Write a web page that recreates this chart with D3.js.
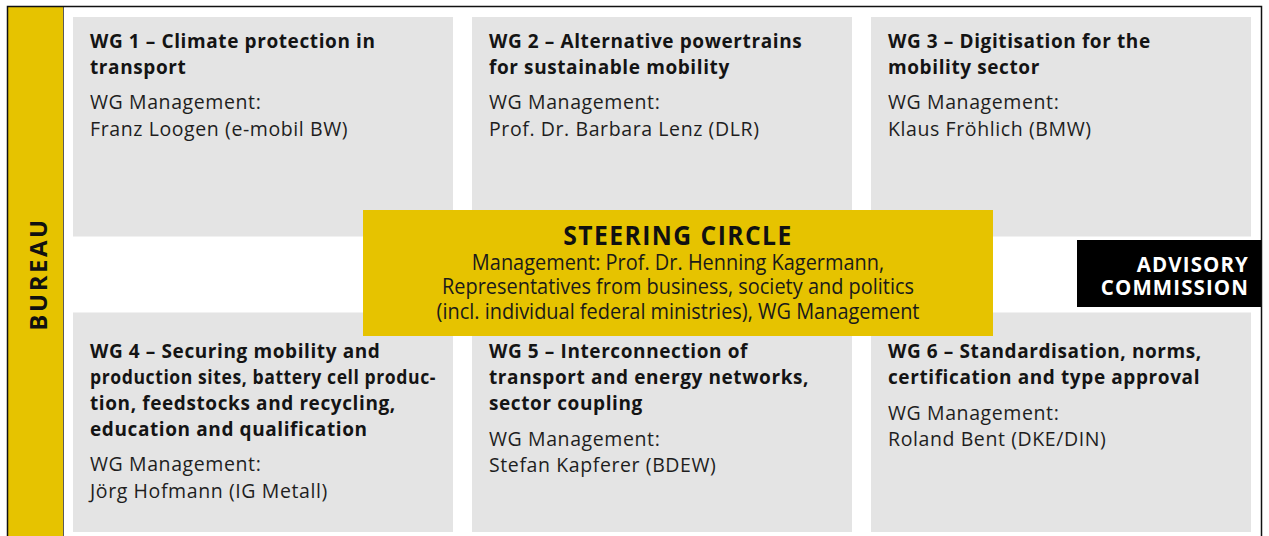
<!DOCTYPE html>
<html>
<head>
<meta charset="utf-8">
<script src="https://cdn.jsdelivr.net/npm/d3@7"></script>
<style>
  body { margin: 0; background: #fff; }
  svg text { font-family: "Open Sans", "Noto Sans", sans-serif; }
</style>
</head>
<body>
<div id="chart-container"></div>
<script>
// Working groups, read row by row (top row 1-3, bottom row 4-6)
const groupTitles = [
    ["WG 1 – Climate protection in", "transport"],
    ["WG 2 – Alternative powertrains", "for sustainable mobility"],
    ["WG 3 – Digitisation for the", "mobility sector"],
    ["WG 4 – Securing mobility and", "production sites, battery cell produc-", "tion, feedstocks and recycling,", "education and qualification"],
    ["WG 5 – Interconnection of", "transport and energy networks,", "sector coupling"],
    ["WG 6 – Standardisation, norms,", "certification and type approval"]
];
const groupManagers = [
    "Franz Loogen (e-mobil BW)",
    "Prof. Dr. Barbara Lenz (DLR)",
    "Klaus Fröhlich (BMW)",
    "Jörg Hofmann (IG Metall)",
    "Stefan Kapferer (BDEW)",
    "Roland Bent (DKE/DIN)"
];
const managementLabel = "WG Management:";
const steeringTitle = "STEERING CIRCLE";
const steeringLines = [
    "Management: Prof. Dr. Henning Kagermann,",
    "Representatives from business, society and politics",
    "(incl. individual federal ministries), WG Management"
];
const advisoryLines = ["ADVISORY", "COMMISSION"];
const bureauLabel = "BUREAU";

const width = 1269;
const height = 536;
const yellow = "#e6c300";
const grey = "#e4e4e4";

const svg = d3.select("#chart-container")
    .append("svg")
    .attr("width", width)
    .attr("height", height);

// Grid of working group cards
const cols = d3.scaleBand().domain([0, 1, 2]).range([73, 1251]).paddingInner(0.0476);
const rows = d3.scaleBand().domain([0, 1]).range([17, 532]).paddingInner(0.257);
const textTop = [31, 46]; // bottom row text starts lower, below the steering box
const pad = 17;
const maxLine = cols.bandwidth() - 2 * pad;

const groups = groupTitles.map((t, i) => ({
    title: t,
    manager: groupManagers[i],
    col: i % 3,
    row: Math.floor(i / 3)
}));

const card = svg.selectAll("g.card")
    .data(groups)
    .enter()
    .append("g")
    .attr("class", "card")
    .attr("transform", d => `translate(${cols(d.col)},${rows(d.row)})`);

card.append("rect")
    .attr("width", cols.bandwidth())
    .attr("height", rows.bandwidth())
    .attr("fill", grey);

card.each(function(d) {
    const g = d3.select(this);
    const top = textTop[d.row];
    g.selectAll("text.title")
        .data(d.title)
        .enter()
        .append("text")
        .attr("class", "title")
        .attr("x", pad)
        .attr("y", (s, j) => top + j * 25.8)
        .attr("fill", "#141414")
        .style("font-size", "19px")
        .style("font-weight", 700)
        .style("letter-spacing", "0.6px")
        .text(s => s)
        .each(function() {
            // squeeze any line that would run past the card edge
            if (this.getComputedTextLength() > maxLine) {
                d3.select(this)
                    .attr("textLength", maxLine)
                    .attr("lengthAdjust", "spacingAndGlyphs");
            }
        });
    const mTop = top + (d.title.length - 1) * 25.8 + 35.5;
    g.selectAll("text.body")
        .data([managementLabel, d.manager])
        .enter()
        .append("text")
        .attr("class", "body")
        .attr("x", pad)
        .attr("y", (s, j) => mTop + j * 26.6)
        .attr("fill", "#1e1e1e")
        .style("font-size", "19.5px")
        .style("letter-spacing", "0.6px")
        .text(s => s);
});

// Bureau bar on the left
svg.append("rect")
    .attr("x", 8).attr("y", 7)
    .attr("width", 56).attr("height", height)
    .attr("fill", yellow);
svg.append("line")
    .attr("x1", 63.5).attr("x2", 63.5)
    .attr("y1", 7).attr("y2", height)
    .attr("stroke", "#5a5a5a").attr("stroke-width", 1);
svg.append("text")
    .attr("transform", "translate(47,274) rotate(-90)")
    .attr("text-anchor", "middle")
    .attr("fill", "#111")
    .style("font-size", "24px")
    .style("font-weight", 700)
    .style("letter-spacing", "2.5px")
    .text(bureauLabel);

// Steering circle
svg.append("rect")
    .attr("x", 363).attr("y", 210)
    .attr("width", 630).attr("height", 126)
    .attr("fill", yellow);
const steer = svg.append("g")
    .attr("transform", "translate(678,0) scale(0.95,1)");
steer.append("text")
    .attr("y", 245)
    .attr("text-anchor", "middle")
    .attr("fill", "#111")
    .style("font-size", "26px")
    .style("font-weight", 700)
    .style("letter-spacing", "1.5px")
    .text(steeringTitle);
steer.selectAll("text.line")
    .data(steeringLines)
    .enter()
    .append("text")
    .attr("class", "line")
    .attr("y", (s, i) => 270 + i * 24.5)
    .attr("text-anchor", "middle")
    .attr("fill", "#1a1a1a")
    .style("font-size", "21px")
    .text(s => s);

// Advisory commission
svg.append("rect")
    .attr("x", 1077).attr("y", 240)
    .attr("width", 185).attr("height", 67)
    .attr("fill", "#000");
svg.selectAll("text.adv")
    .data(advisoryLines)
    .enter()
    .append("text")
    .attr("class", "adv")
    .attr("x", 1249)
    .attr("y", (s, i) => 272 + i * 22.6)
    .attr("text-anchor", "end")
    .attr("fill", "#fff")
    .style("font-size", "20.5px")
    .style("font-weight", 700)
    .style("letter-spacing", "1.1px")
    .text(s => s);

// Outer frame
svg.append("rect")
    .attr("x", 7.5).attr("y", 6.5)
    .attr("width", 1254).attr("height", height + 10)
    .attr("fill", "none")
    .attr("stroke", "#111")
    .attr("stroke-width", 1.5);
</script>
</body>
</html>
